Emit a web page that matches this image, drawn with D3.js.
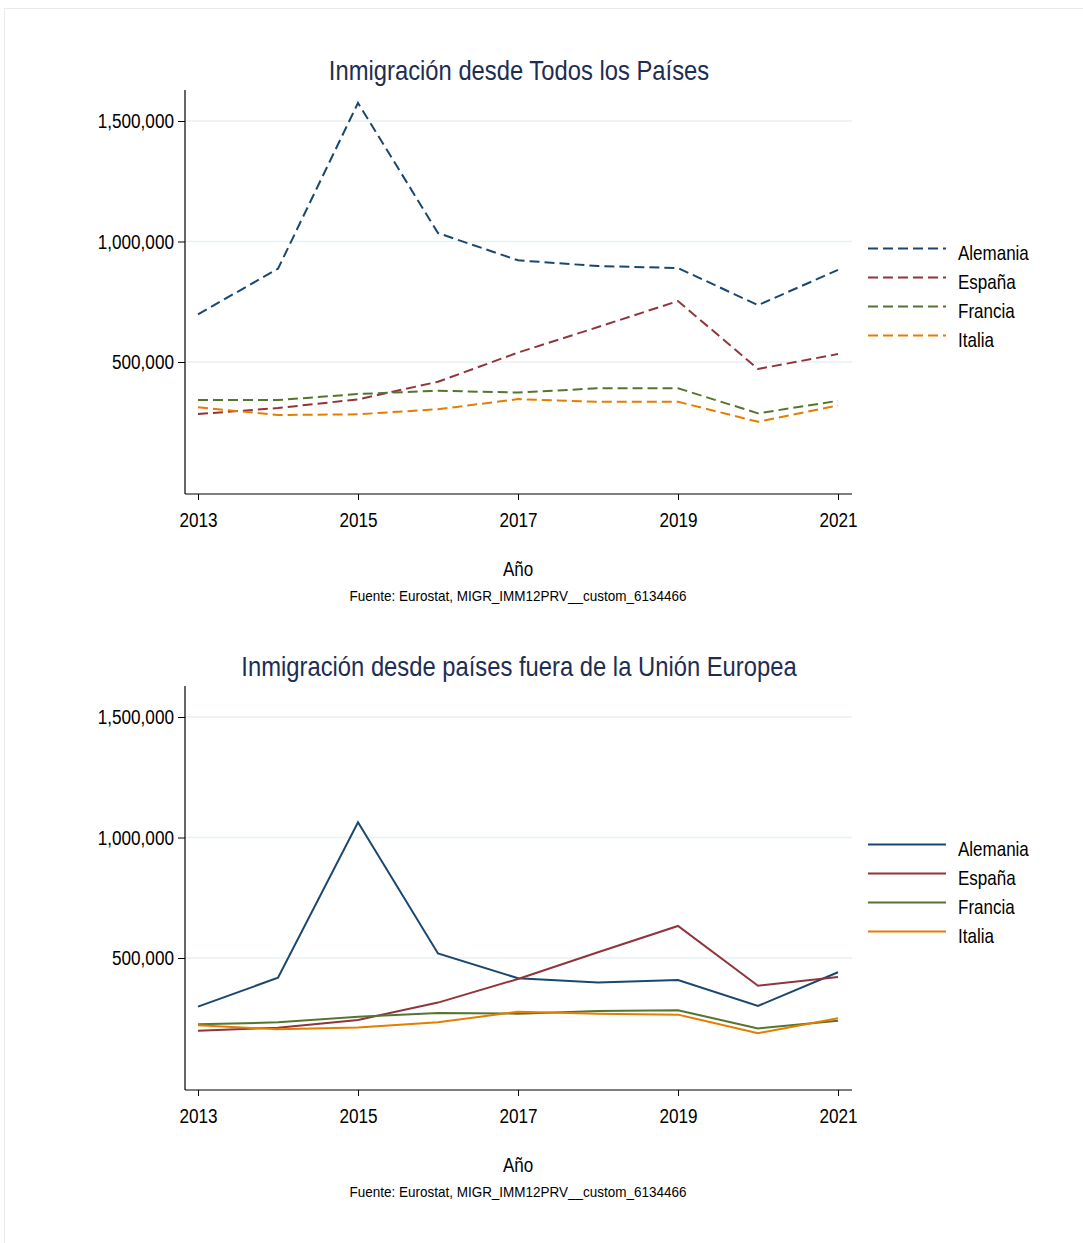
<!DOCTYPE html>
<html><head><meta charset="utf-8">
<script src="https://cdn.jsdelivr.net/npm/d3@7"></script>
<style>body{margin:0;background:#fff}svg{display:block}text{font-family:"Liberation Sans",Arial,sans-serif}</style>
</head><body>
<script>
const years = [2013,2014,2015,2016,2017,2018,2019,2020,2021];
const countries = ["Alemania","España","Francia","Italia"];
const colors = ["#1a476f","#90353b","#55752f","#e37e00"];
// Inmigración desde todos los países
const allAlemania = [698000,887000,1575000,1035000,922000,898000,890000,736000,882000];
const allEspana   = [284000,309000,345000,418000,539000,645000,753000,471000,533000];
const allFrancia  = [342000,342000,367000,381000,373000,391000,391000,287000,339000];
const allItalia   = [312000,280000,283000,304000,346000,335000,335000,252000,320000];
// Inmigración desde países fuera de la UE
const nonAlemania = [298000,418000,1063000,519000,416000,398000,409000,301000,441000];
const nonEspana   = [198000,211000,243000,315000,413000,524000,633000,385000,421000];
const nonFrancia  = [225000,233000,256000,272000,269000,280000,283000,208000,240000];
const nonItalia   = [221000,204000,212000,233000,277000,269000,265000,188000,250000];
const yTicks = [500000,1000000,1500000];
const xTicks = [2013,2015,2017,2019,2021];
const titles = ["Inmigración desde Todos los Países","Inmigración desde países fuera de la Unión Europea"];
const xLabel = "Año";
const source = "Fuente: Eurostat, MIGR_IMM12PRV__custom_6134466";

const W=1083,H=1243;
const svg=d3.select("body").append("svg").attr("width",W).attr("height",H);
svg.append("rect").attr("x",4.5).attr("y",8.5).attr("width",W-4).attr("height",H-8).attr("fill","#fff").attr("stroke","#e6ebee");

function ntext(g,x,y,txt,size,sx,anchor,fill){
  return g.append("text").attr("transform",`translate(${x},${y}) scale(${sx},1)`)
    .attr("text-anchor",anchor||"start").attr("font-size",size).attr("fill",fill||"#000").text(txt);
}

const panels=[
 {top:0, series:[allAlemania,allEspana,allFrancia,allItalia], dash:"10,5", title:titles[0]},
 {top:596, series:[nonAlemania,nonEspana,nonFrancia,nonItalia], dash:null, title:titles[1]}
];
const fmt=d3.format(",");
panels.forEach(p=>{
  const g=svg.append("g").attr("transform",`translate(0,${p.top})`);
  const x=d3.scaleLinear().domain([2013,2021]).range([198,838]);
  const y=d3.scaleLinear().domain([0,500000]).range([482.5,362]);
  const plotL=185,plotR=852,plotT=90,plotB=494;
  g.selectAll(".grid").data(yTicks).join("line")
    .attr("x1",plotL).attr("x2",plotR).attr("y1",d=>y(d)).attr("y2",d=>y(d))
    .attr("stroke","#e8f1f3").attr("stroke-width",1.5);
  const ya=g.append("g").attr("transform",`translate(${plotL},0)`)
    .call(d3.axisLeft(y).tickValues(yTicks).tickFormat(fmt).tickSize(7));
  ya.select(".domain").remove();
  ya.selectAll(".tick text").attr("x",null).attr("dy","0.35em")
    .attr("transform","translate(-11,0) scale(0.88,1)").attr("font-size",19.5);
  g.append("line").attr("x1",plotL).attr("x2",plotL).attr("y1",plotT).attr("y2",plotB).attr("stroke","#000").attr("stroke-width",1.2);
  const xa=g.append("g").attr("transform",`translate(0,${plotB})`)
    .call(d3.axisBottom(x).tickValues(xTicks).tickFormat(d3.format("d")).tickSize(6));
  xa.select(".domain").remove();
  xa.selectAll(".tick text").attr("y",null).attr("dy","0.35em")
    .attr("transform","translate(0,26) scale(0.88,1)").attr("font-size",19.5);
  g.append("line").attr("x1",plotL).attr("x2",plotR).attr("y1",plotB).attr("y2",plotB).attr("stroke","#000").attr("stroke-width",1.2);
  [ya,xa].forEach(a=>{a.selectAll("text").attr("fill","#000");a.selectAll(".tick line").attr("stroke","#000");});
  const line=d3.line().x((d,i)=>x(years[i])).y(d=>y(d));
  p.series.forEach((s,k)=>{
    g.append("path").datum(s).attr("d",line).attr("fill","none")
      .attr("stroke",colors[k]).attr("stroke-width",2)
      .attr("stroke-dasharray",p.dash);
  });
  countries.forEach((c,k)=>{
    const ly=248.5+k*29;
    g.append("line").attr("x1",868).attr("x2",946).attr("y1",ly).attr("y2",ly)
      .attr("stroke",colors[k]).attr("stroke-width",2).attr("stroke-dasharray",p.dash);
    ntext(g,958,ly+11,c,20,0.85);
  });
  ntext(g,519,80,p.title,28,0.85,"middle","#1e2d53");
  ntext(g,518,576,xLabel,20,0.85,"middle");
  ntext(g,518,601,source,15,0.9,"middle");
});
</script>
</body></html>
